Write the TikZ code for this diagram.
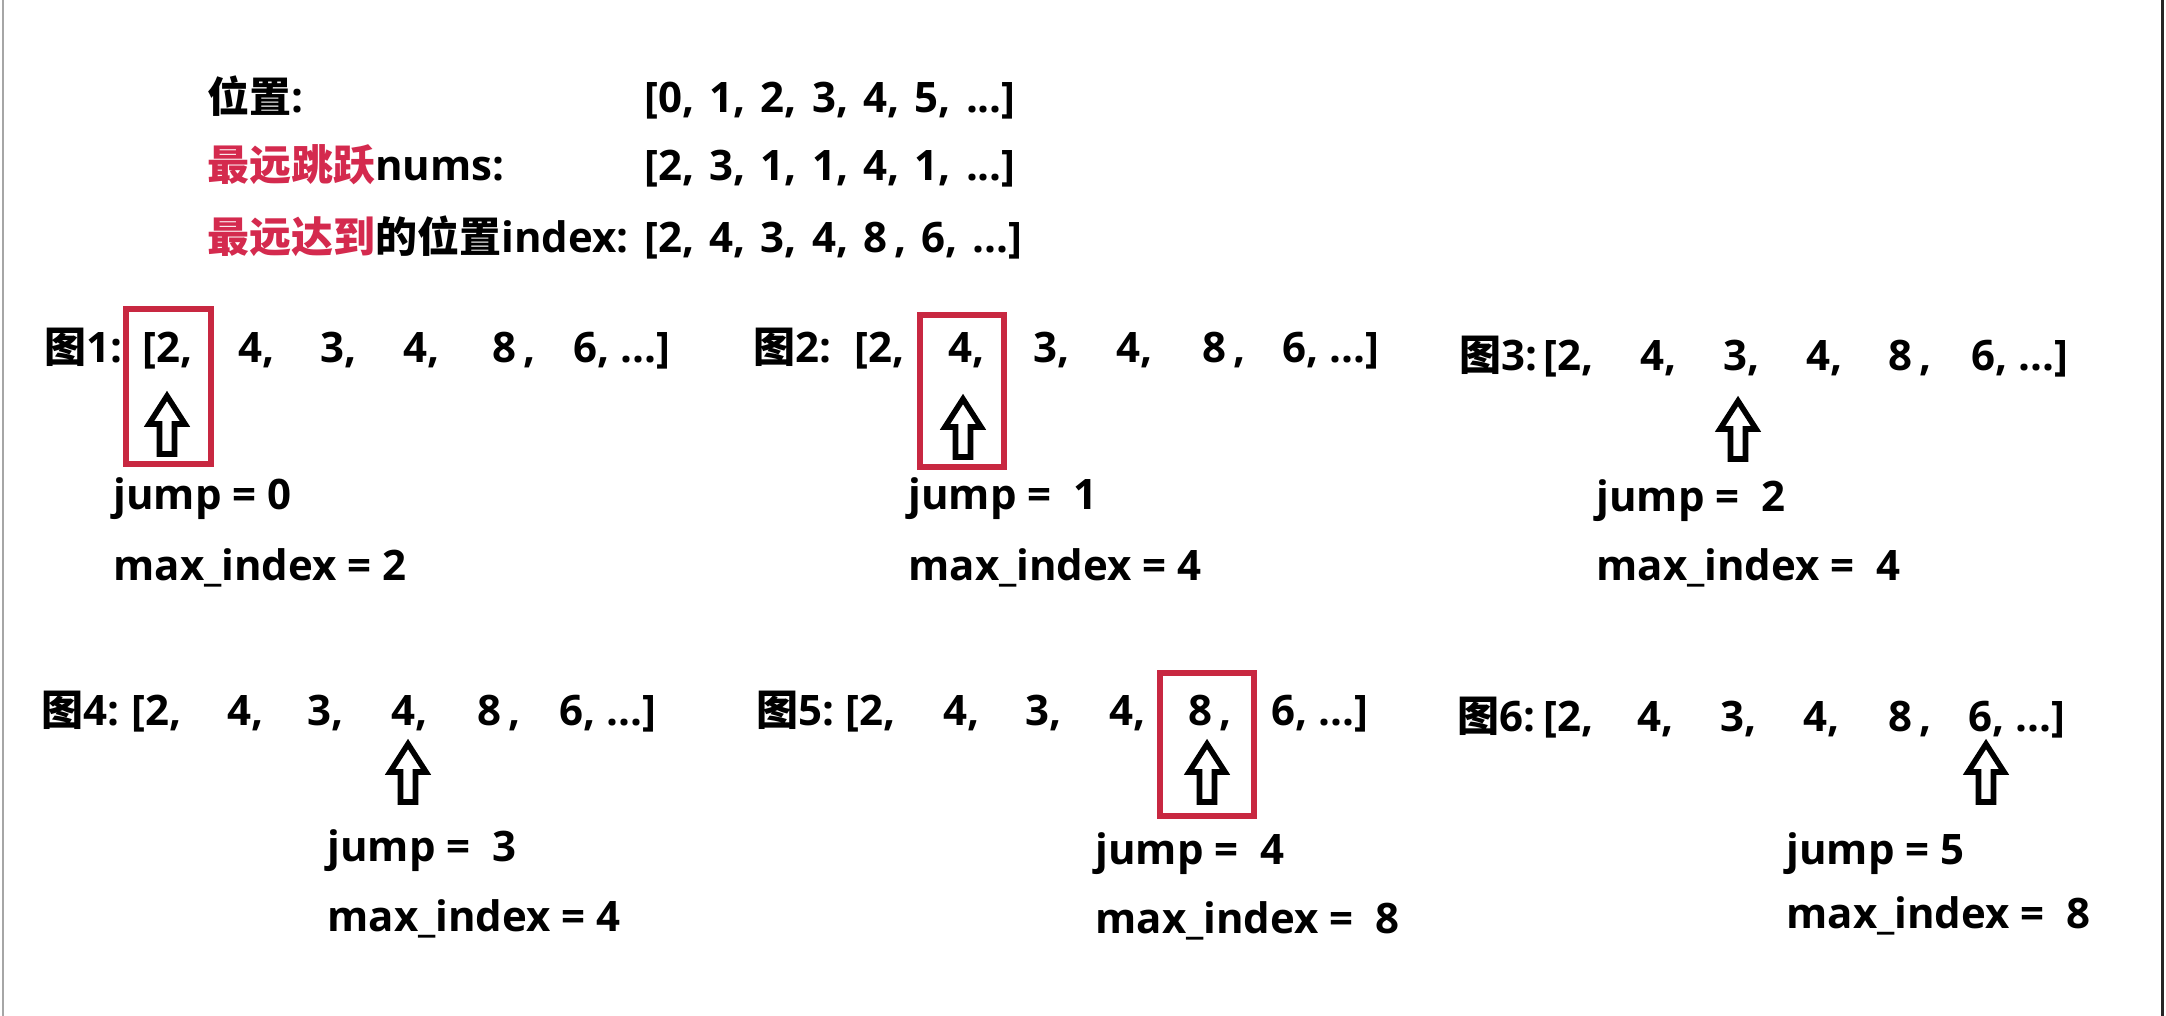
\documentclass[tikz,border=0pt]{standalone}
\usepackage{fontspec}
\setmainfont{Open Sans}
\newfontfamily\cjk{Noto Sans CJK SC}
\definecolor{boxred}{RGB}{200,40,65}
\definecolor{txtred}{RGB}{212,42,78}
\begin{document}
\begin{tikzpicture}[x=0.5pt,y=-0.5pt,
  txt/.style={anchor=base west, inner sep=0pt, font=\bfseries\fontsize{21}{24}\selectfont},
  widetxt/.style={txt, execute at begin node={\spaceskip=0.36em\relax}},
  redbox/.style={draw=boxred, line width=2.6pt, inner sep=0pt},
  uparr/.pic={\draw[line width=2.8pt, fill=white, line join=miter] (-7.5,29) -- (-7.5,-1) -- (-18,-1) -- (0,-29) -- (18,-1) -- (7.5,-1) -- (7.5,29) -- cycle;}]
\useasboundingbox (0,0) rectangle (2166,1016);
\fill[white] (0,0) rectangle (2166,1016);
\draw[gray!70, line width=1pt] (3,0) -- (3,1016);
\draw[black!85, line width=1.5pt] (2162,0) -- (2162,1016);

% header
\node[txt] (h1) at (207,113) {{\cjk 位置}:};
\node[widetxt] (h1v) at (644,113) {[0, 1, 2, 3, 4, 5, ...]};
\node[txt] (h2) at (207,181) {{\cjk\color{txtred}最远跳跃}nums:};
\node[widetxt] (h2v) at (644,181) {[2, 3, 1, 1, 4, 1, ...]};
\node[txt] (h3) at (207,252) {{\cjk\color{txtred}最远达到}{\cjk 的位置}index:};
\node[widetxt] (h3v) at (644,252) {[2, 4, 3, 4, 8\,, 6, ...]};

% red boxes
\node[redbox, minimum width=42.5pt, minimum height=77.5pt] (box1) at (168.5,386.5) {};
\node[redbox, minimum width=42pt, minimum height=76pt] (box2) at (962,391) {};
\node[redbox, minimum width=47pt, minimum height=71.5pt] (box5) at (1207,744.5) {};

% panel 1
\node[txt] (p1l) at (44,362) {{\cjk 图}1:};
\node[txt] (p1a) at (142,362) {[2,};
\node[txt] (p1b) at (238,362) {4,};
\node[txt] (p1c) at (320,362) {3,};
\node[txt] (p1d) at (403,362) {4,};
\node[txt] (p1e) at (492,362) {8\,,};
\node[txt] (p1f) at (573,362) {6, ...]};
\pic at (167,425) {uparr};
\node[txt] (p1j) at (113,509) {jump = 0};
\node[txt] (p1m) at (113,580) {max\_index = 2};

% panel 2
\node[txt] (p2l) at (753,362) {{\cjk 图}2:};
\node[txt] (p2a) at (854,362) {[2,};
\node[txt] (p2b) at (948,362) {4,};
\node[txt] (p2c) at (1033,362) {3,};
\node[txt] (p2d) at (1116,362) {4,};
\node[txt] (p2e) at (1202,362) {8\,,};
\node[txt] (p2f) at (1282,362) {6, ...]};
\pic at (963,428) {uparr};
\node[txt] (p2j) at (908,509) {jump =\ \ 1};
\node[txt] (p2m) at (908,580) {max\_index = 4};

% panel 3
\node[txt] (p3l) at (1459,370) {{\cjk 图}3:};
\node[txt] (p3a) at (1543,370) {[2,};
\node[txt] (p3b) at (1640,370) {4,};
\node[txt] (p3c) at (1723,370) {3,};
\node[txt] (p3d) at (1806,370) {4,};
\node[txt] (p3e) at (1888,370) {8\,,};
\node[txt] (p3f) at (1971,370) {6, ...]};
\pic at (1738,430) {uparr};
\node[txt] (p3j) at (1596,511) {jump =\ \ 2};
\node[txt] (p3m) at (1596,580) {max\_index =\ \ 4};

% panel 4
\node[txt] (p4l) at (41,725) {{\cjk 图}4:};
\node[txt] (p4a) at (131,725) {[2,};
\node[txt] (p4b) at (227,725) {4,};
\node[txt] (p4c) at (307,725) {3,};
\node[txt] (p4d) at (391,725) {4,};
\node[txt] (p4e) at (477,725) {8\,,};
\node[txt] (p4f) at (559,725) {6, ...]};
\pic at (408,773) {uparr};
\node[txt] (p4j) at (327,861) {jump =\ \ 3};
\node[txt] (p4m) at (327,931) {max\_index = 4};

% panel 5
\node[txt] (p5l) at (756,725) {{\cjk 图}5:};
\node[txt] (p5a) at (845,725) {[2,};
\node[txt] (p5b) at (943,725) {4,};
\node[txt] (p5c) at (1025,725) {3,};
\node[txt] (p5d) at (1109,725) {4,};
\node[txt] (p5e) at (1188,725) {8\,,};
\node[txt] (p5f) at (1271,725) {6, ...]};
\pic at (1207,773) {uparr};
\node[txt] (p5j) at (1095,864) {jump =\ \ 4};
\node[txt] (p5m) at (1095,933) {max\_index =\ \ 8};

% panel 6
\node[txt] (p6l) at (1457,731) {{\cjk 图}6:};
\node[txt] (p6a) at (1543,731) {[2,};
\node[txt] (p6b) at (1637,731) {4,};
\node[txt] (p6c) at (1720,731) {3,};
\node[txt] (p6d) at (1803,731) {4,};
\node[txt] (p6e) at (1888,731) {8\,,};
\node[txt] (p6f) at (1968,731) {6, ...]};
\pic at (1986,773) {uparr};
\node[txt] (p6j) at (1786,864) {jump = 5};
\node[txt] (p6m) at (1786,928) {max\_index =\ \ 8};
\end{tikzpicture}
\end{document}
